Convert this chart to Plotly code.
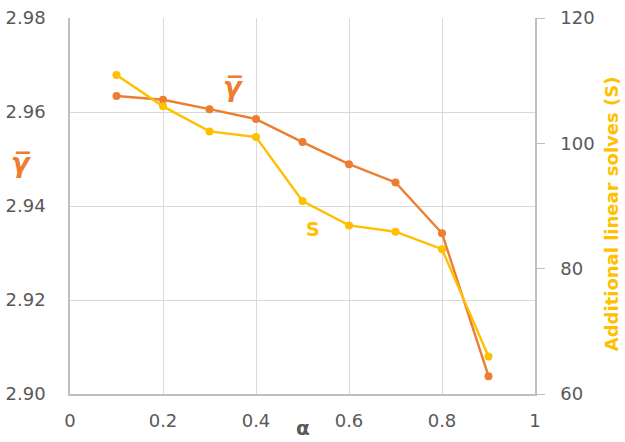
import plotly.graph_objects as go

# alpha values and the two measured series
alpha = [0.1, 0.2, 0.3, 0.4, 0.5, 0.6, 0.7, 0.8, 0.9]
gamma_bar = [2.9634, 2.9626, 2.9606, 2.9585, 2.9536, 2.9489, 2.9450, 2.9342, 2.9038]
solves = [110.9, 105.9, 101.9, 101.0, 90.8, 86.9, 85.9, 83.1, 66.0]

left_ticks = [2.90, 2.92, 2.94, 2.96, 2.98]
left_tick_text = ["2.90", "2.92", "2.94", "2.96", "2.98"]
right_ticks = [60, 80, 100, 120]
x_ticks = [0, 0.2, 0.4, 0.6, 0.8, 1]
x_tick_text = ["0", "0.2", "0.4", "0.6", "0.8", "1"]

ORANGE = "#ED7D31"
GOLD = "#FFC000"
GRID = "#D9D9D9"
AXIS = "#BFBFBF"
TICK = "#595959"
FONT = "DejaVu Sans"
GAMMA_BAR = "<b><i>γ\u0305</i></b>"

fig = go.Figure()
fig.add_trace(go.Scatter(
    x=alpha, y=gamma_bar, mode="lines+markers",
    line=dict(color=ORANGE, width=2.4),
    marker=dict(color=ORANGE, size=8),
    yaxis="y", showlegend=False,
))
fig.add_trace(go.Scatter(
    x=alpha, y=solves, mode="lines+markers",
    line=dict(color=GOLD, width=2.4),
    marker=dict(color=GOLD, size=8),
    yaxis="y2", showlegend=False,
))

fig.update_layout(
    width=625, height=442,
    margin=dict(l=70, r=90, t=18, b=48),
    paper_bgcolor="white", plot_bgcolor="white",
    font=dict(family=FONT, color=TICK, size=18),
    xaxis=dict(
        range=[0, 1], tickvals=x_ticks, ticktext=x_tick_text,
        showgrid=True, gridcolor=GRID, gridwidth=1,
        showline=True, linecolor=AXIS, linewidth=1.5,
        zeroline=False, ticks="", ticklabelstandoff=10, automargin=False,
        tickfont=dict(size=18, color=TICK),
    ),
    yaxis=dict(
        range=[2.90, 2.98], tickvals=left_ticks, ticktext=left_tick_text,
        showgrid=True, gridcolor=GRID, gridwidth=1,
        showline=True, linecolor=AXIS, linewidth=1.5,
        zeroline=False, ticks="", ticklabelstandoff=19, automargin=False,
        tickfont=dict(size=18, color=TICK),
    ),
    yaxis2=dict(
        range=[60, 120], tickvals=right_ticks,
        overlaying="y", side="right",
        showgrid=False, showline=True, linecolor=AXIS, linewidth=1.5,
        zeroline=False, ticks="outside", ticklen=8, tickcolor=AXIS,
        ticklabelstandoff=12, automargin=False,
        tickfont=dict(size=18, color=TICK),
    ),
    annotations=[
        dict(text="<b>α</b>", x=0.5, y=-0.091, xref="paper", yref="paper",
             showarrow=False, font=dict(size=20, color=TICK, family=FONT),
             xanchor="center", yanchor="middle"),
        dict(text=GAMMA_BAR, x=-0.105, y=0.615, xref="paper", yref="paper",
             showarrow=False, font=dict(size=27, color=ORANGE, family=FONT),
             xanchor="center", yanchor="middle"),
        dict(text="<b>Additional linear solves (S)</b>", x=1.165, y=0.48,
             xref="paper", yref="paper", textangle=-90, showarrow=False,
             font=dict(size=18, color=GOLD, family=FONT),
             xanchor="center", yanchor="middle"),
        dict(text=GAMMA_BAR, x=0.35, y=2.9655, xref="x", yref="y",
             showarrow=False, font=dict(size=27, color=ORANGE, family=FONT),
             xanchor="center", yanchor="middle"),
        dict(text="<b>S</b>", x=0.522, y=2.9351, xref="x", yref="y",
             showarrow=False, font=dict(size=19, color=GOLD, family=FONT),
             xanchor="center", yanchor="middle"),
    ],
)

fig.write_html("out.html")
